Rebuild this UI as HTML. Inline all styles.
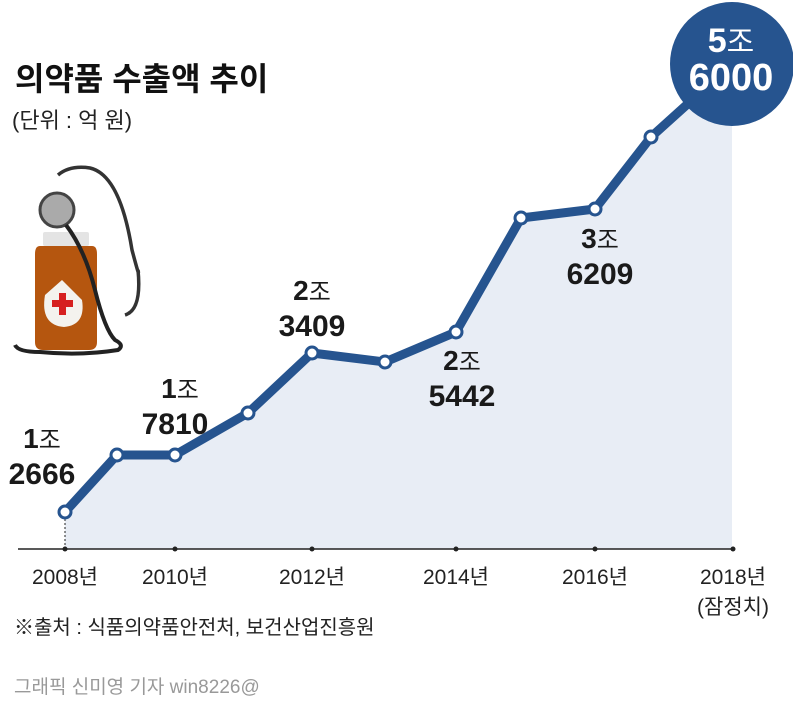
<!DOCTYPE html>
<html><head><meta charset="utf-8"><style>
body{margin:0;background:#fff;}
svg text{font-family:"Liberation Sans","Noto Sans CJK KR",sans-serif;}
</style></head><body>
<svg width="793" height="707" viewBox="0 0 793 707" xmlns="http://www.w3.org/2000/svg">
<rect width="793" height="707" fill="#fff"/>
<polygon points="65,512 117,455 175,455 248,413 312,353 385,362 456,332 521,218 595,209 651,137 732,64 732,549 65,549" fill="#e8edf5"/>
<line x1="18" y1="549" x2="733" y2="549" stroke="#222" stroke-width="1.5"/>
<g fill="#222">
<circle cx="65" cy="549" r="2.5"/><circle cx="175" cy="549" r="2.5"/><circle cx="312" cy="549" r="2.5"/><circle cx="456" cy="549" r="2.5"/><circle cx="595" cy="549" r="2.5"/><circle cx="733" cy="549" r="2.5"/>
</g>
<line x1="65" y1="515" x2="65" y2="549" stroke="#222" stroke-dasharray="2,2"/>
<polyline points="65,512 117,455 175,455 248,413 312,353 385,362 456,332 521,218 595,209 651,137 732,64" fill="none" stroke="#26548f" stroke-width="9" stroke-linejoin="round"/>
<g fill="#fff" stroke="#26548f" stroke-width="3">
<circle cx="65" cy="512" r="6"/><circle cx="117" cy="455" r="6"/><circle cx="175" cy="455" r="6"/><circle cx="248" cy="413" r="6"/><circle cx="312" cy="353" r="6"/><circle cx="385" cy="362" r="6"/><circle cx="456" cy="332" r="6"/><circle cx="521" cy="218" r="6"/><circle cx="595" cy="209" r="6"/><circle cx="651" cy="137" r="6"/>
</g>
<circle cx="732" cy="64" r="62" fill="#26548f"/>
<text x="731" y="52" text-anchor="middle" fill="#fff" font-size="34" font-weight="bold">5<tspan font-weight="normal" font-size="30">조</tspan></text>
<text x="731" y="90" text-anchor="middle" fill="#fff" font-size="38" font-weight="bold">6000</text>
<text x="15" y="90" font-size="32" font-weight="bold" fill="#111">의약품 수출액 추이</text>
<text x="12" y="128" font-size="22" fill="#222">(단위 : 억 원)</text>
<g font-weight="bold" fill="#1a1a1a" text-anchor="middle">
<text x="42" y="448" font-size="28">1<tspan font-weight="normal" font-size="24">조</tspan></text>
<text x="42" y="484" font-size="30">2666</text>
<text x="180" y="398" font-size="28">1<tspan font-weight="normal" font-size="24">조</tspan></text>
<text x="175" y="434" font-size="30">7810</text>
<text x="312" y="300" font-size="28">2<tspan font-weight="normal" font-size="24">조</tspan></text>
<text x="312" y="336" font-size="30">3409</text>
<text x="462" y="370" font-size="28">2<tspan font-weight="normal" font-size="24">조</tspan></text>
<text x="462" y="406" font-size="30">5442</text>
<text x="600" y="248" font-size="28">3<tspan font-weight="normal" font-size="24">조</tspan></text>
<text x="600" y="284" font-size="30">6209</text>
</g>
<g font-size="21" fill="#222" text-anchor="middle">
<text x="65" y="584">2008년</text><text x="175" y="584">2010년</text><text x="312" y="584">2012년</text><text x="456" y="584">2014년</text><text x="595" y="584">2016년</text><text x="733" y="584">2018년</text>
<text x="733" y="614">(잠정치)</text>
</g>
<text x="14" y="634" font-size="20" fill="#222">※출처 : 식품의약품안전처, 보건산업진흥원</text>
<text x="14" y="693" font-size="19" fill="#999">그래픽 신미영 기자 win8226@</text>
<g>
<path d="M58,175 Q70,165 90,168 Q120,175 132,250 Q140,280 138,270 Q142,310 125,315" fill="none" stroke="#333" stroke-width="3.5"/>
<rect x="43" y="232" width="46" height="14" rx="2" fill="#e4e4e4"/>
<path d="M40,246 h52 q5,0 5,8 v88 q0,8 -8,8 h-46 q-8,0 -8,-8 v-88 q0,-8 5,-8z" fill="#b5560f"/>
<path d="M45,295 L62,280 L82,300 Q86,325 64,327 Q40,325 45,295z" fill="#f4f2ee"/>
<rect x="59" y="293" width="7" height="22" fill="#d62020"/><rect x="52" y="300" width="21" height="7" fill="#d62020"/>
<circle cx="57" cy="210" r="17" fill="#aaa" stroke="#444" stroke-width="3"/>
<path d="M66,225 Q85,250 95,290 Q105,330 115,340 Q125,345 118,350 Q80,356 40,352 Q18,352 15,345" fill="none" stroke="#222" stroke-width="4"/>
</g>
</svg>
</body></html>
